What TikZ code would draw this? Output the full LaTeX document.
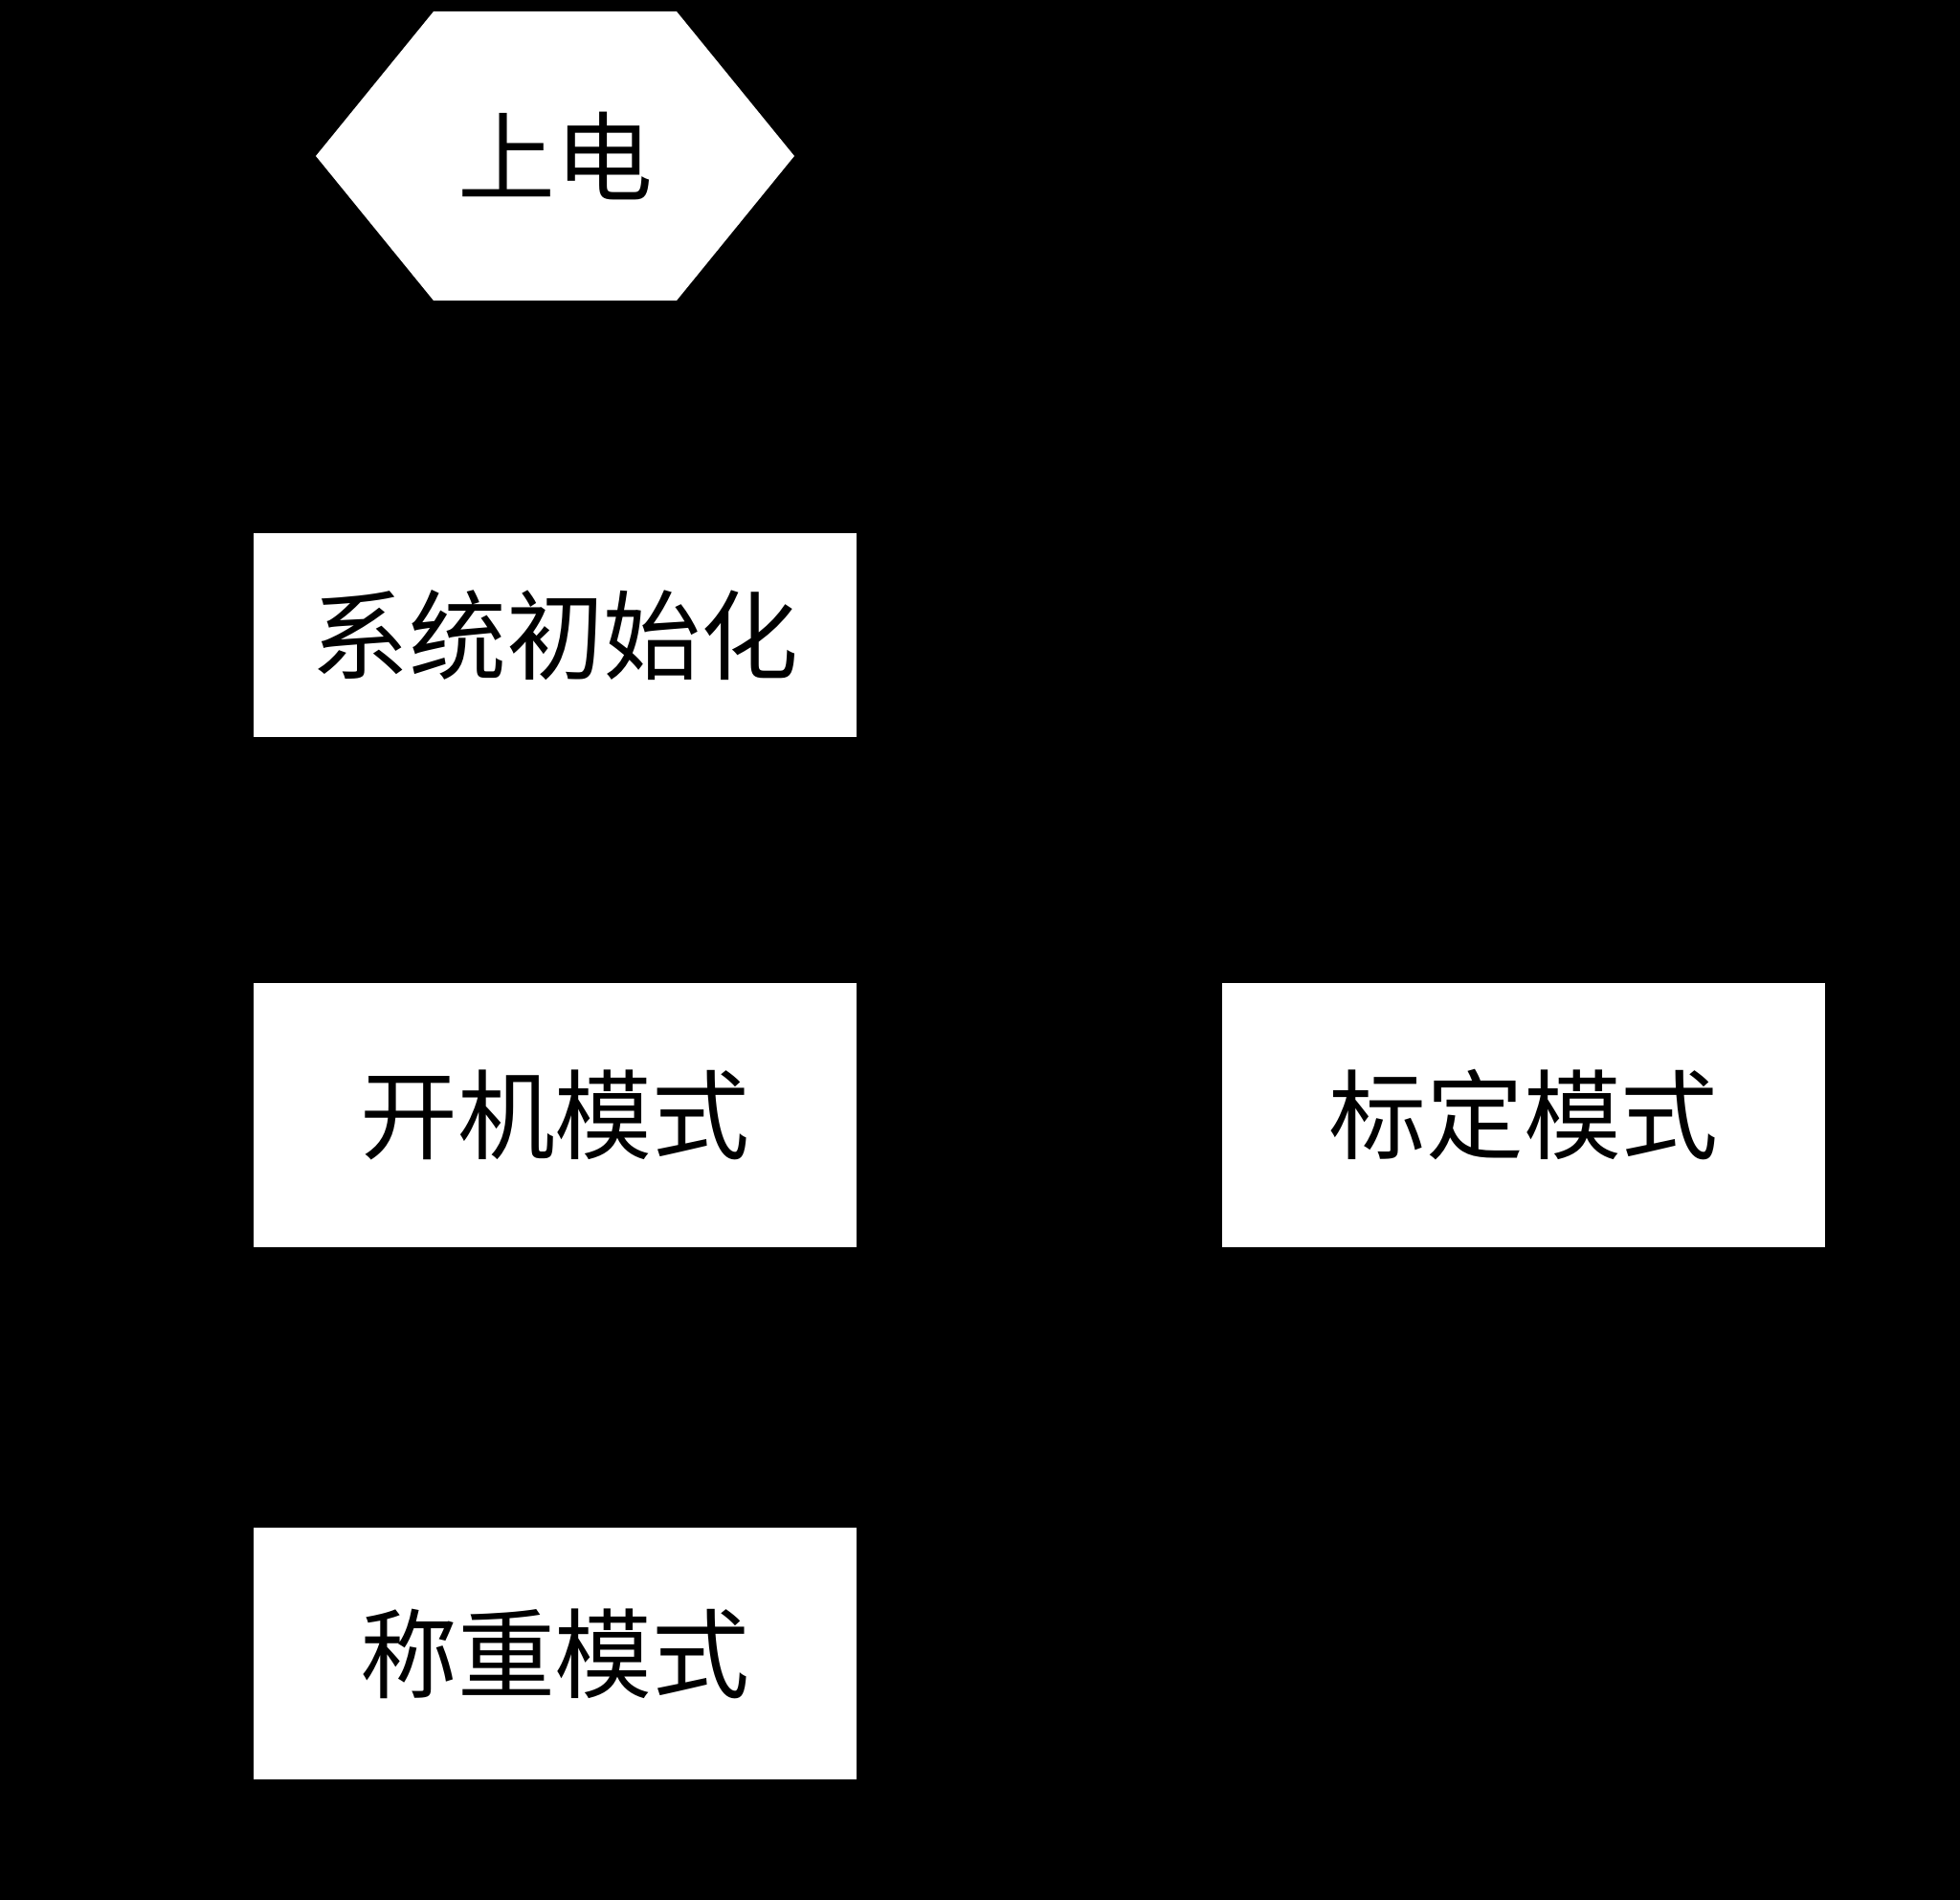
\documentclass[tikz,border=0pt]{standalone}
\usepackage{fontspec}
\newfontfamily\cjk{Noto Sans CJK SC}
\usetikzlibrary{positioning}
\begin{document}
\begin{tikzpicture}[
    box/.style={rectangle, fill=white, minimum width=6.3cm, font=\cjk\fontsize{29}{34}\selectfont, inner sep=0pt}
]
% background
\fill[black] (0,0) rectangle (20.48,19.85);

% start hexagon
\fill[white] (3.30,18.22) -- (4.53,19.73) -- (7.07,19.73) -- (8.30,18.22) -- (7.07,16.71) -- (4.53,16.71) -- cycle;
\node[font=\cjk\fontsize{29}{34}\selectfont] (power) at (5.80,18.22) {上电};

% mode boxes
\node[box, minimum height=2.13cm] (init) at (5.80,13.21) {系统初始化};
\node[box, minimum height=2.76cm] (boot) at (5.80,8.20) {开机模式};
\node[box, minimum height=2.76cm] (calib) at (15.92,8.20) {标定模式};
\node[box, minimum height=2.63cm] (weigh) at (5.80,2.57) {称重模式};
\end{tikzpicture}
\end{document}
